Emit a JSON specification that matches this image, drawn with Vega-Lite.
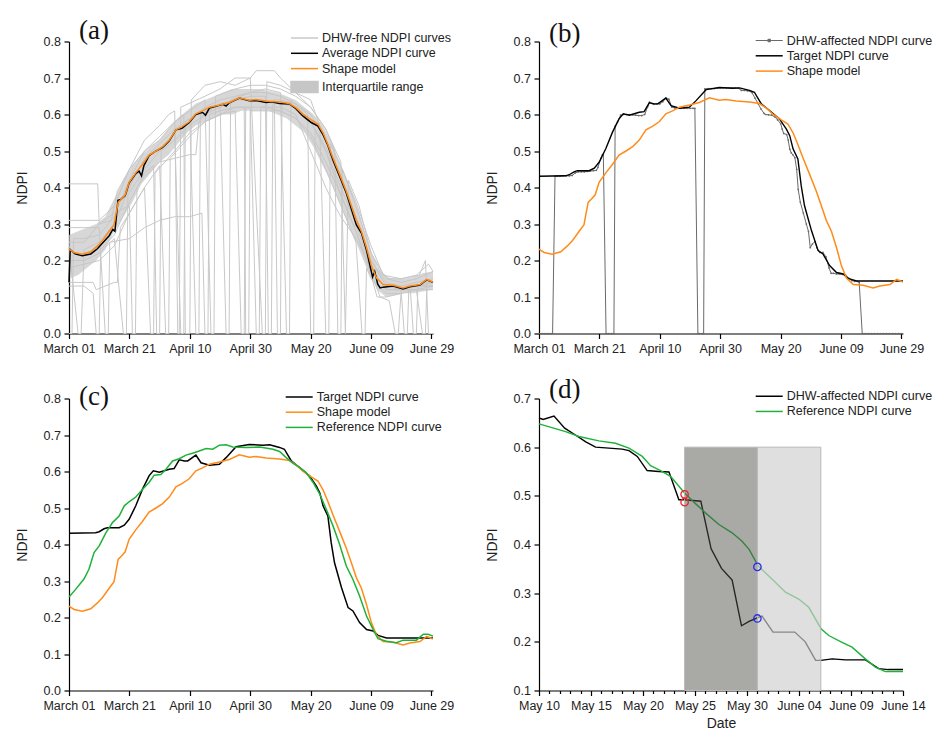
{
  "$schema": "https://vega.github.io/schema/vega-lite/v6.json",
  "background": "white",
  "padding": {"left": 15, "top": 16.5, "right": 5, "bottom": 5},
  "columns": 2,
  "spacing": {"row": 65, "column": 106},
  "bounds": "flush",
  "resolve": {"scale": {"color": "independent", "x": "independent", "y": "independent", "fill": "independent", "stroke": "independent", "opacity": "independent"}, "legend": {"color": "independent"}},
  "datasets": {
    "gray": [
      {"id":"c1","day":0,"v":0.41},{"id":"c1","day":9.5,"v":0.41},{"id":"c1","day":10,"v":0.30},{"id":"c1","day":14,"v":0.31},{"id":"c1","day":16,"v":0.39},{"id":"c1","day":20,"v":0.45},{"id":"c1","day":25,"v":0.50},{"id":"c1","day":30,"v":0.54},{"id":"c1","day":35,"v":0.58},{"id":"c1","day":38,"v":0.60},{"id":"c1","day":38.5,"v":0},{"id":"c1","day":40,"v":0},{"id":"c1","day":40.5,"v":0.64},{"id":"c1","day":45,"v":0.68},{"id":"c1","day":50,"v":0.69},{"id":"c1","day":55,"v":0.68},{"id":"c1","day":60,"v":0.70},{"id":"c1","day":62,"v":0.72},{"id":"c1","day":68,"v":0.72},{"id":"c1","day":70,"v":0.70},{"id":"c1","day":75,"v":0.66},{"id":"c1","day":80,"v":0.62},{"id":"c1","day":85,"v":0.56},{"id":"c1","day":90,"v":0.47},{"id":"c1","day":91.5,"v":0},{"id":"c1","day":92.5,"v":0.42},{"id":"c1","day":96,"v":0.35},{"id":"c1","day":100,"v":0.22},{"id":"c1","day":103,"v":0.17},{"id":"c1","day":106,"v":0.15},{"id":"c1","day":110,"v":0.15},{"id":"c1","day":116,"v":0.16},{"id":"c1","day":118,"v":0.20},{"id":"c1","day":119,"v":0},{"id":"c1","day":120.5,"v":0},
      {"id":"c2","day":0,"v":0.14},{"id":"c2","day":8,"v":0.14},{"id":"c2","day":9,"v":0.12},{"id":"c2","day":15,"v":0.14},{"id":"c2","day":16,"v":0.14},{"id":"c2","day":17,"v":0.29},{"id":"c2","day":20,"v":0.33},{"id":"c2","day":25,"v":0.40},{"id":"c2","day":30,"v":0.46},{"id":"c2","day":32,"v":0},{"id":"c2","day":33,"v":0},{"id":"c2","day":33.5,"v":0.48},{"id":"c2","day":40,"v":0.54},{"id":"c2","day":45,"v":0.58},{"id":"c2","day":50,"v":0.60},{"id":"c2","day":55,"v":0.62},{"id":"c2","day":58,"v":0.62},{"id":"c2","day":58.5,"v":0},{"id":"c2","day":59.5,"v":0},{"id":"c2","day":60,"v":0.61},{"id":"c2","day":65,"v":0.61},{"id":"c2","day":70,"v":0.61},{"id":"c2","day":75,"v":0.59},{"id":"c2","day":80,"v":0.55},{"id":"c2","day":85,"v":0.47},{"id":"c2","day":90,"v":0.38},{"id":"c2","day":95,"v":0.28},{"id":"c2","day":100,"v":0.17},{"id":"c2","day":103,"v":0.10},{"id":"c2","day":106,"v":0.09},{"id":"c2","day":108,"v":0},{"id":"c2","day":109,"v":0},{"id":"c2","day":110,"v":0.12},{"id":"c2","day":115,"v":0.13},{"id":"c2","day":120.5,"v":0.13},
      {"id":"c3","day":0,"v":0.13},{"id":"c3","day":5,"v":0.13},{"id":"c3","day":8,"v":0.11},{"id":"c3","day":9,"v":0},{"id":"c3","day":10,"v":0},{"id":"c3","day":10.5,"v":0.23},{"id":"c3","day":15,"v":0.27},{"id":"c3","day":20,"v":0.36},{"id":"c3","day":25,"v":0.44},{"id":"c3","day":28,"v":0.46},{"id":"c3","day":29,"v":0},{"id":"c3","day":30,"v":0},{"id":"c3","day":30.5,"v":0.50},{"id":"c3","day":35,"v":0.53},{"id":"c3","day":40,"v":0.57},{"id":"c3","day":45,"v":0.60},{"id":"c3","day":50,"v":0.62},{"id":"c3","day":55,"v":0.64},{"id":"c3","day":60,"v":0.65},{"id":"c3","day":65,"v":0.65},{"id":"c3","day":66,"v":0},{"id":"c3","day":67,"v":0},{"id":"c3","day":67.5,"v":0.64},{"id":"c3","day":70,"v":0.64},{"id":"c3","day":75,"v":0.63},{"id":"c3","day":80,"v":0.60},{"id":"c3","day":85,"v":0.53},{"id":"c3","day":90,"v":0.43},{"id":"c3","day":95,"v":0.32},{"id":"c3","day":100,"v":0.20},{"id":"c3","day":105,"v":0.13},{"id":"c3","day":110,"v":0.12},{"id":"c3","day":115,"v":0.12},{"id":"c3","day":117,"v":0},{"id":"c3","day":118,"v":0},{"id":"c3","day":118.5,"v":0.14},{"id":"c3","day":120.5,"v":0.14},
      {"id":"c4","day":0,"v":0.29},{"id":"c4","day":5,"v":0.29},{"id":"c4","day":10,"v":0.29},{"id":"c4","day":12,"v":0},{"id":"c4","day":13,"v":0},{"id":"c4","day":13.5,"v":0.25},{"id":"c4","day":20,"v":0.26},{"id":"c4","day":25,"v":0.29},{"id":"c4","day":30,"v":0.31},{"id":"c4","day":35,"v":0.32},{"id":"c4","day":40,"v":0.32},{"id":"c4","day":44,"v":0.33},{"id":"c4","day":45,"v":0},{"id":"c4","day":46,"v":0},{"id":"c4","day":46.5,"v":0.60},{"id":"c4","day":50,"v":0.61},{"id":"c4","day":55,"v":0.62},{"id":"c4","day":60,"v":0.62},{"id":"c4","day":62,"v":0},{"id":"c4","day":63,"v":0},{"id":"c4","day":63.5,"v":0.62},{"id":"c4","day":70,"v":0.62},{"id":"c4","day":75,"v":0.60},{"id":"c4","day":80,"v":0.50},{"id":"c4","day":82,"v":0.46},{"id":"c4","day":85,"v":0.40},{"id":"c4","day":88,"v":0.35},{"id":"c4","day":90,"v":0.32},{"id":"c4","day":95,"v":0.26},{"id":"c4","day":100,"v":0.18},{"id":"c4","day":105,"v":0.12},{"id":"c4","day":110,"v":0.12},{"id":"c4","day":115,"v":0.13},{"id":"c4","day":120.5,"v":0.13},
      {"id":"c5","day":0,"v":0.25},{"id":"c5","day":5,"v":0.25},{"id":"c5","day":10,"v":0.30},{"id":"c5","day":15,"v":0.33},{"id":"c5","day":20,"v":0.35},{"id":"c5","day":21,"v":0},{"id":"c5","day":22,"v":0},{"id":"c5","day":22.5,"v":0.40},{"id":"c5","day":25,"v":0.43},{"id":"c5","day":30,"v":0.47},{"id":"c5","day":35,"v":0.48},{"id":"c5","day":40,"v":0.49},{"id":"c5","day":42,"v":0.49},{"id":"c5","day":43,"v":0.58},{"id":"c5","day":45,"v":0.60},{"id":"c5","day":50,"v":0.63},{"id":"c5","day":52,"v":0},{"id":"c5","day":53,"v":0},{"id":"c5","day":53.5,"v":0.64},{"id":"c5","day":60,"v":0.66},{"id":"c5","day":65,"v":0.67},{"id":"c5","day":70,"v":0.66},{"id":"c5","day":72,"v":0},{"id":"c5","day":73,"v":0},{"id":"c5","day":73.5,"v":0.64},{"id":"c5","day":80,"v":0.58},{"id":"c5","day":85,"v":0.51},{"id":"c5","day":90,"v":0.42},{"id":"c5","day":95,"v":0.32},{"id":"c5","day":100,"v":0.20},{"id":"c5","day":105,"v":0.14},{"id":"c5","day":110,"v":0.13},{"id":"c5","day":115,"v":0.14},{"id":"c5","day":120.5,"v":0.15},
      {"id":"c6","day":0,"v":0.20},{"id":"c6","day":5,"v":0.20},{"id":"c6","day":10,"v":0.22},{"id":"c6","day":15,"v":0.26},{"id":"c6","day":18,"v":0},{"id":"c6","day":19,"v":0},{"id":"c6","day":19.5,"v":0.38},{"id":"c6","day":25,"v":0.45},{"id":"c6","day":30,"v":0.50},{"id":"c6","day":35,"v":0.55},{"id":"c6","day":37,"v":0},{"id":"c6","day":38,"v":0},{"id":"c6","day":38.5,"v":0.58},{"id":"c6","day":45,"v":0.62},{"id":"c6","day":50,"v":0.64},{"id":"c6","day":55,"v":0.65},{"id":"c6","day":60,"v":0.66},{"id":"c6","day":65,"v":0.66},{"id":"c6","day":70,"v":0.65},{"id":"c6","day":75,"v":0.63},{"id":"c6","day":79,"v":0.60},{"id":"c6","day":80,"v":0},{"id":"c6","day":81,"v":0},{"id":"c6","day":81.5,"v":0.56},{"id":"c6","day":85,"v":0.50},{"id":"c6","day":90,"v":0.40},{"id":"c6","day":95,"v":0.30},{"id":"c6","day":100,"v":0.18},{"id":"c6","day":105,"v":0.12},{"id":"c6","day":110,"v":0.12},{"id":"c6","day":113,"v":0.12},{"id":"c6","day":114,"v":0},{"id":"c6","day":115,"v":0},{"id":"c6","day":115.5,"v":0.13},{"id":"c6","day":120.5,"v":0.14},
      {"id":"c7","day":0,"v":0},{"id":"c7","day":1,"v":0},{"id":"c7","day":1.5,"v":0.26},{"id":"c7","day":5,"v":0.26},{"id":"c7","day":10,"v":0.27},{"id":"c7","day":15,"v":0.32},{"id":"c7","day":20,"v":0.42},{"id":"c7","day":25,"v":0.50},{"id":"c7","day":30,"v":0.53},{"id":"c7","day":35,"v":0.58},{"id":"c7","day":40,"v":0.61},{"id":"c7","day":45,"v":0.64},{"id":"c7","day":47,"v":0},{"id":"c7","day":48,"v":0},{"id":"c7","day":48.5,"v":0.65},{"id":"c7","day":55,"v":0.67},{"id":"c7","day":60,"v":0.68},{"id":"c7","day":65,"v":0.68},{"id":"c7","day":70,"v":0.67},{"id":"c7","day":75,"v":0.65},{"id":"c7","day":80,"v":0.62},{"id":"c7","day":85,"v":0.56},{"id":"c7","day":88,"v":0.50},{"id":"c7","day":89,"v":0},{"id":"c7","day":90,"v":0},{"id":"c7","day":90.5,"v":0.45},{"id":"c7","day":95,"v":0.35},{"id":"c7","day":100,"v":0.22},{"id":"c7","day":105,"v":0.15},{"id":"c7","day":110,"v":0.14},{"id":"c7","day":115,"v":0.15},{"id":"c7","day":120.5,"v":0.17},
      {"id":"c8","day":0,"v":0.18},{"id":"c8","day":5,"v":0.19},{"id":"c8","day":10,"v":0.20},{"id":"c8","day":15,"v":0.24},{"id":"c8","day":20,"v":0.33},{"id":"c8","day":25,"v":0.40},{"id":"c8","day":27,"v":0},{"id":"c8","day":28,"v":0},{"id":"c8","day":28.5,"v":0.44},{"id":"c8","day":35,"v":0.50},{"id":"c8","day":40,"v":0.55},{"id":"c8","day":45,"v":0.58},{"id":"c8","day":50,"v":0.60},{"id":"c8","day":55,"v":0.61},{"id":"c8","day":57,"v":0},{"id":"c8","day":58,"v":0},{"id":"c8","day":58.5,"v":0.62},{"id":"c8","day":65,"v":0.62},{"id":"c8","day":70,"v":0.61},{"id":"c8","day":75,"v":0.59},{"id":"c8","day":80,"v":0.54},{"id":"c8","day":85,"v":0.45},{"id":"c8","day":90,"v":0.35},{"id":"c8","day":95,"v":0.25},{"id":"c8","day":97,"v":0},{"id":"c8","day":98,"v":0},{"id":"c8","day":98.5,"v":0.18},{"id":"c8","day":100,"v":0.15},{"id":"c8","day":105,"v":0.11},{"id":"c8","day":110,"v":0.11},{"id":"c8","day":115,"v":0.12},{"id":"c8","day":120.5,"v":0.13},
      {"id":"c9","day":0,"v":0.24},{"id":"c9","day":3,"v":0},{"id":"c9","day":4,"v":0},{"id":"c9","day":5,"v":0.23},{"id":"c9","day":10,"v":0.25},{"id":"c9","day":15,"v":0.30},{"id":"c9","day":20,"v":0.40},{"id":"c9","day":25,"v":0.48},{"id":"c9","day":30,"v":0.52},{"id":"c9","day":35,"v":0.56},{"id":"c9","day":40,"v":0.59},{"id":"c9","day":42,"v":0},{"id":"c9","day":43,"v":0},{"id":"c9","day":43.5,"v":0.60},{"id":"c9","day":50,"v":0.63},{"id":"c9","day":55,"v":0.64},{"id":"c9","day":60,"v":0.64},{"id":"c9","day":68,"v":0.63},{"id":"c9","day":69,"v":0},{"id":"c9","day":70,"v":0},{"id":"c9","day":70.5,"v":0.63},{"id":"c9","day":75,"v":0.62},{"id":"c9","day":80,"v":0.58},{"id":"c9","day":85,"v":0.50},{"id":"c9","day":90,"v":0.38},{"id":"c9","day":95,"v":0.28},{"id":"c9","day":100,"v":0.16},{"id":"c9","day":102,"v":0.10},{"id":"c9","day":105,"v":0.10},{"id":"c9","day":110,"v":0.11},{"id":"c9","day":111,"v":0},{"id":"c9","day":112,"v":0},{"id":"c9","day":112.5,"v":0.12},{"id":"c9","day":120.5,"v":0.12},
      {"id":"c10","day":0,"v":0.31},{"id":"c10","day":5,"v":0.31},{"id":"c10","day":10,"v":0.31},{"id":"c10","day":15,"v":0.35},{"id":"c10","day":20,"v":0.45},{"id":"c10","day":25,"v":0.53},{"id":"c10","day":30,"v":0.57},{"id":"c10","day":33,"v":0.60},{"id":"c10","day":35,"v":0.61},{"id":"c10","day":36,"v":0},{"id":"c10","day":36.5,"v":0},{"id":"c10","day":37,"v":0.62},{"id":"c10","day":45,"v":0.65},{"id":"c10","day":50,"v":0.67},{"id":"c10","day":55,"v":0.70},{"id":"c10","day":60,"v":0.70},{"id":"c10","day":64,"v":0},{"id":"c10","day":65,"v":0},{"id":"c10","day":65.5,"v":0.69},{"id":"c10","day":70,"v":0.68},{"id":"c10","day":75,"v":0.66},{"id":"c10","day":80,"v":0.64},{"id":"c10","day":83,"v":0.57},{"id":"c10","day":85,"v":0},{"id":"c10","day":86,"v":0},{"id":"c10","day":86.5,"v":0.52},{"id":"c10","day":90,"v":0.46},{"id":"c10","day":95,"v":0.36},{"id":"c10","day":100,"v":0.24},{"id":"c10","day":104,"v":0.16},{"id":"c10","day":110,"v":0.15},{"id":"c10","day":115,"v":0.16},{"id":"c10","day":119,"v":0.19},{"id":"c10","day":120.5,"v":0.17}
    ],
    "iqr": [
      {"day":0,"lo":0.15,"hi":0.27},{"day":3,"lo":0.16,"hi":0.28},{"day":6,"lo":0.18,"hi":0.29},{"day":9,"lo":0.20,"hi":0.30},{"day":12,"lo":0.23,"hi":0.32},{"day":15,"lo":0.28,"hi":0.37},{"day":18,"lo":0.32,"hi":0.42},{"day":21,"lo":0.36,"hi":0.46},{"day":24,"lo":0.41,"hi":0.49},{"day":27,"lo":0.44,"hi":0.51},{"day":30,"lo":0.47,"hi":0.53},{"day":33,"lo":0.49,"hi":0.56},{"day":36,"lo":0.52,"hi":0.59},{"day":39,"lo":0.55,"hi":0.61},{"day":42,"lo":0.57,"hi":0.63},{"day":45,"lo":0.58,"hi":0.64},{"day":48,"lo":0.59,"hi":0.65},{"day":51,"lo":0.60,"hi":0.66},{"day":54,"lo":0.60,"hi":0.67},{"day":57,"lo":0.61,"hi":0.67},{"day":60,"lo":0.61,"hi":0.67},{"day":63,"lo":0.61,"hi":0.67},{"day":66,"lo":0.61,"hi":0.665},{"day":69,"lo":0.60,"hi":0.66},{"day":72,"lo":0.59,"hi":0.65},{"day":75,"lo":0.57,"hi":0.64},{"day":78,"lo":0.55,"hi":0.62},{"day":81,"lo":0.51,"hi":0.60},{"day":84,"lo":0.46,"hi":0.57},{"day":87,"lo":0.41,"hi":0.52},{"day":90,"lo":0.35,"hi":0.46},{"day":93,"lo":0.29,"hi":0.40},{"day":96,"lo":0.23,"hi":0.33},{"day":99,"lo":0.17,"hi":0.25},{"day":102,"lo":0.12,"hi":0.18},{"day":105,"lo":0.10,"hi":0.155},{"day":108,"lo":0.105,"hi":0.15},{"day":111,"lo":0.11,"hi":0.15},{"day":114,"lo":0.11,"hi":0.155},{"day":117,"lo":0.115,"hi":0.165},{"day":120.5,"lo":0.12,"hi":0.17}
    ],
    "avg": [
      {"day":0,"v":0.14},{"day":0.4,"v":0.23},{"day":2,"v":0.218},{"day":4.4,"v":0.213},{"day":7.2,"v":0.218},{"day":9.4,"v":0.232},{"day":11.1,"v":0.248},{"day":13.3,"v":0.268},{"day":14.5,"v":0.285},{"day":15.2,"v":0.28},{"day":15.8,"v":0.33},{"day":16.2,"v":0.365},{"day":17.1,"v":0.367},{"day":18.6,"v":0.378},{"day":19.9,"v":0.412},{"day":22.1,"v":0.438},{"day":23.2,"v":0.445},{"day":24,"v":0.432},{"day":24.8,"v":0.46},{"day":26.5,"v":0.487},{"day":28.8,"v":0.5},{"day":31,"v":0.51},{"day":33.2,"v":0.528},{"day":35.4,"v":0.558},{"day":37.4,"v":0.562},{"day":39.8,"v":0.578},{"day":42,"v":0.6},{"day":44.2,"v":0.606},{"day":45.2,"v":0.598},{"day":46.5,"v":0.618},{"day":49.8,"v":0.625},{"day":51,"v":0.628},{"day":52,"v":0.623},{"day":53.1,"v":0.632},{"day":56.4,"v":0.645},{"day":59.7,"v":0.638},{"day":61.9,"v":0.638},{"day":65.3,"v":0.633},{"day":67,"v":0.635},{"day":69.7,"v":0.63},{"day":73,"v":0.629},{"day":75.2,"v":0.615},{"day":77.4,"v":0.596},{"day":80.2,"v":0.578},{"day":82.4,"v":0.568},{"day":84.1,"v":0.545},{"day":85.7,"v":0.515},{"day":87.4,"v":0.475},{"day":89.6,"v":0.43},{"day":91.8,"v":0.385},{"day":93.5,"v":0.34},{"day":95.1,"v":0.298},{"day":96.8,"v":0.275},{"day":98.5,"v":0.228},{"day":99.8,"v":0.18},{"day":100.5,"v":0.155},{"day":101.2,"v":0.17},{"day":102.2,"v":0.135},{"day":103,"v":0.125},{"day":104,"v":0.127},{"day":107.3,"v":0.13},{"day":110.6,"v":0.122},{"day":112.8,"v":0.128},{"day":116.2,"v":0.133},{"day":118.4,"v":0.147},{"day":120.5,"v":0.14}
    ],
    "shape": [
      {"day":0,"v":0.231},{"day":1.7,"v":0.222},{"day":4.4,"v":0.217},{"day":7.2,"v":0.224},{"day":9.4,"v":0.24},{"day":11.1,"v":0.255},{"day":13.3,"v":0.28},{"day":14.9,"v":0.298},{"day":15.6,"v":0.33},{"day":16.3,"v":0.36},{"day":17.3,"v":0.368},{"day":18.6,"v":0.38},{"day":19.9,"v":0.414},{"day":22.1,"v":0.44},{"day":24.3,"v":0.463},{"day":26.5,"v":0.489},{"day":28.8,"v":0.5},{"day":31,"v":0.512},{"day":33.2,"v":0.53},{"day":35.4,"v":0.558},{"day":37.4,"v":0.567},{"day":39.8,"v":0.58},{"day":42,"v":0.602},{"day":44.2,"v":0.61},{"day":46.5,"v":0.62},{"day":49.8,"v":0.626},{"day":53.1,"v":0.633},{"day":56.4,"v":0.646},{"day":59.7,"v":0.639},{"day":61.9,"v":0.641},{"day":65.3,"v":0.637},{"day":69.7,"v":0.634},{"day":73,"v":0.63},{"day":75.2,"v":0.618},{"day":77.4,"v":0.601},{"day":80.2,"v":0.585},{"day":82.4,"v":0.574},{"day":84.1,"v":0.55},{"day":85.7,"v":0.518},{"day":87.4,"v":0.481},{"day":89.6,"v":0.436},{"day":91.8,"v":0.39},{"day":93.5,"v":0.349},{"day":95.1,"v":0.31},{"day":96.8,"v":0.28},{"day":98.5,"v":0.235},{"day":100.1,"v":0.186},{"day":101.8,"v":0.152},{"day":104,"v":0.134},{"day":107.3,"v":0.132},{"day":110.6,"v":0.125},{"day":112.8,"v":0.13},{"day":116.2,"v":0.134},{"day":118.4,"v":0.148},{"day":120.5,"v":0.141}
    ],
    "target": [
      {"day":0,"v":0.431},{"day":8.8,"v":0.432},{"day":10,"v":0.435},{"day":11.6,"v":0.443},{"day":12.7,"v":0.446},{"day":16.6,"v":0.446},{"day":18.3,"v":0.453},{"day":19.9,"v":0.469},{"day":22.1,"v":0.506},{"day":24.3,"v":0.551},{"day":26.5,"v":0.588},{"day":27.9,"v":0.602},{"day":29.9,"v":0.598},{"day":33.2,"v":0.606},{"day":34.8,"v":0.608},{"day":36.5,"v":0.632},{"day":38.2,"v":0.629},{"day":39.3,"v":0.629},{"day":42,"v":0.645},{"day":43.7,"v":0.624},{"day":46.5,"v":0.617},{"day":49.8,"v":0.62},{"day":52,"v":0.638},{"day":55.3,"v":0.668},{"day":59.7,"v":0.674},{"day":64.2,"v":0.672},{"day":66.4,"v":0.673},{"day":69.7,"v":0.666},{"day":71.3,"v":0.661},{"day":73.6,"v":0.629},{"day":76.3,"v":0.611},{"day":79.6,"v":0.588},{"day":81.9,"v":0.56},{"day":83,"v":0.542},{"day":84.1,"v":0.506},{"day":85.7,"v":0.478},{"day":86.8,"v":0.405},{"day":87.9,"v":0.35},{"day":90.2,"v":0.282},{"day":92.4,"v":0.227},{"day":94,"v":0.218},{"day":96.2,"v":0.186},{"day":98.5,"v":0.167},{"day":100.7,"v":0.163},{"day":102.3,"v":0.151},{"day":105.1,"v":0.144},{"day":120.5,"v":0.144}
    ],
    "dhw": [
      {"day":0,"v":0},{"day":1,"v":0},{"day":2,"v":0},{"day":3,"v":0},{"day":4,"v":0},{"day":4.5,"v":0},{"day":5.3,"v":0.431},{"day":6,"v":0.431},{"day":7,"v":0.431},{"day":8,"v":0.432},{"day":9,"v":0.432},{"day":10,"v":0.432},{"day":11,"v":0.433},{"day":12,"v":0.44},{"day":13,"v":0.443},{"day":14,"v":0.443},{"day":15,"v":0.443},{"day":16,"v":0.444},{"day":17,"v":0.445},{"day":18,"v":0.446},{"day":19,"v":0.447},{"day":19.5,"v":0.455},{"day":20.5,"v":0.48},{"day":21,"v":0.49},{"day":21.3,"v":0.49},{"day":22.2,"v":0},{"day":23,"v":0},{"day":24,"v":0},{"day":24.8,"v":0},{"day":25.2,"v":0.568},{"day":26,"v":0.58},{"day":27,"v":0.598},{"day":28,"v":0.6},{"day":29,"v":0.6},{"day":30,"v":0.6},{"day":31,"v":0.599},{"day":32,"v":0.598},{"day":33,"v":0.597},{"day":34,"v":0.597},{"day":35,"v":0.6},{"day":36,"v":0.622},{"day":36.6,"v":0.634},{"day":37.5,"v":0.63},{"day":38,"v":0.628},{"day":39,"v":0.629},{"day":40,"v":0.629},{"day":41,"v":0.635},{"day":42,"v":0.645},{"day":43,"v":0.642},{"day":44,"v":0.62},{"day":45,"v":0.618},{"day":46,"v":0.617},{"day":47,"v":0.617},{"day":48,"v":0.617},{"day":49,"v":0.617},{"day":50,"v":0.617},{"day":51,"v":0.617},{"day":51.6,"v":0.617},{"day":52.6,"v":0},{"day":53,"v":0},{"day":54,"v":0},{"day":54.5,"v":0},{"day":54.9,"v":0.67},{"day":56,"v":0.671},{"day":57,"v":0.671},{"day":58,"v":0.671},{"day":59,"v":0.672},{"day":60,"v":0.673},{"day":61,"v":0.673},{"day":62,"v":0.673},{"day":63,"v":0.673},{"day":64,"v":0.673},{"day":65,"v":0.673},{"day":66,"v":0.672},{"day":67,"v":0.666},{"day":68,"v":0.666},{"day":69,"v":0.665},{"day":70,"v":0.663},{"day":70.5,"v":0.66},{"day":71.5,"v":0.645},{"day":72.5,"v":0.63},{"day":73.5,"v":0.615},{"day":74.5,"v":0.603},{"day":75,"v":0.6},{"day":76,"v":0.599},{"day":77,"v":0.598},{"day":78,"v":0.594},{"day":79,"v":0.585},{"day":80,"v":0.575},{"day":80.5,"v":0.56},{"day":81,"v":0.548},{"day":82,"v":0.545},{"day":82.5,"v":0.53},{"day":83,"v":0.505},{"day":83.5,"v":0.495},{"day":84,"v":0.49},{"day":84.7,"v":0.482},{"day":85.3,"v":0.45},{"day":85.8,"v":0.395},{"day":86.5,"v":0.36},{"day":87.5,"v":0.33},{"day":88.5,"v":0.3},{"day":89.2,"v":0.28},{"day":89.8,"v":0.235},{"day":90.5,"v":0.245},{"day":91.3,"v":0.252},{"day":92,"v":0.235},{"day":93,"v":0.222},{"day":94,"v":0.222},{"day":95,"v":0.21},{"day":96,"v":0.18},{"day":96.7,"v":0.165},{"day":97.5,"v":0.165},{"day":98.5,"v":0.163},{"day":99.5,"v":0.163},{"day":100.5,"v":0.162},{"day":101.5,"v":0.16},{"day":102.5,"v":0.152},{"day":103.5,"v":0.145},{"day":104.5,"v":0.143},{"day":105.5,"v":0.143},{"day":106,"v":0.14},{"day":107,"v":0},{"day":108,"v":0},{"day":109,"v":0},{"day":110,"v":0},{"day":111,"v":0},{"day":112,"v":0},{"day":113,"v":0},{"day":114,"v":0},{"day":115,"v":0},{"day":116,"v":0},{"day":117,"v":0},{"day":118,"v":0},{"day":119,"v":0},{"day":120,"v":0}
    ],
    "ref": [
      {"day":0,"v":0.256},{"day":2.2,"v":0.277},{"day":5,"v":0.306},{"day":6.6,"v":0.332},{"day":8.3,"v":0.378},{"day":10,"v":0.396},{"day":12.2,"v":0.432},{"day":14.4,"v":0.46},{"day":16.6,"v":0.478},{"day":18.3,"v":0.506},{"day":19.9,"v":0.517},{"day":22.1,"v":0.53},{"day":24.3,"v":0.551},{"day":26.5,"v":0.57},{"day":28.2,"v":0.59},{"day":30.4,"v":0.592},{"day":32.1,"v":0.606},{"day":34.3,"v":0.629},{"day":36.5,"v":0.635},{"day":38.7,"v":0.645},{"day":40.9,"v":0.65},{"day":43.1,"v":0.656},{"day":45.4,"v":0.663},{"day":47.6,"v":0.661},{"day":49.8,"v":0.672},{"day":52,"v":0.673},{"day":54.2,"v":0.667},{"day":58.6,"v":0.666},{"day":63.1,"v":0.667},{"day":67.5,"v":0.661},{"day":69.7,"v":0.655},{"day":71.9,"v":0.638},{"day":74.1,"v":0.623},{"day":76.3,"v":0.611},{"day":78.5,"v":0.597},{"day":80.8,"v":0.57},{"day":83,"v":0.538},{"day":85.2,"v":0.496},{"day":87.4,"v":0.451},{"day":89.6,"v":0.4},{"day":91.8,"v":0.341},{"day":94,"v":0.304},{"day":96.2,"v":0.259},{"day":98.5,"v":0.204},{"day":100.7,"v":0.167},{"day":102.3,"v":0.142},{"day":105.1,"v":0.135},{"day":108.4,"v":0.131},{"day":110.6,"v":0.138},{"day":115,"v":0.138},{"day":117.3,"v":0.154},{"day":118.9,"v":0.154},{"day":120.5,"v":0.149}
    ],
    "dblack": [
      {"day":0,"v":0.66},{"day":0.4,"v":0.657},{"day":1.44,"v":0.664},{"day":2.47,"v":0.639},{"day":3.5,"v":0.625},{"day":4.5,"v":0.611},{"day":5.44,"v":0.6},{"day":8,"v":0.596},{"day":8.65,"v":0.593},{"day":9.45,"v":0.581},{"day":10.4,"v":0.552},{"day":11.5,"v":0.55},{"day":12.5,"v":0.549},{"day":13.45,"v":0.492},{"day":14,"v":0.492},{"day":15.56,"v":0.489},{"day":16.55,"v":0.391},{"day":17.55,"v":0.351},{"day":18.57,"v":0.327},{"day":19.47,"v":0.233},{"day":20.2,"v":0.242},{"day":21.07,"v":0.25},{"day":21.45,"v":0.253},{"day":22.5,"v":0.22},{"day":23.5,"v":0.22},{"day":24.6,"v":0.22},{"day":25.6,"v":0.2},{"day":26.6,"v":0.162},{"day":27.1,"v":0.162},{"day":28.2,"v":0.165},{"day":29.46,"v":0.163},{"day":31.4,"v":0.163},{"day":32.66,"v":0.145},{"day":33.6,"v":0.143},{"day":35,"v":0.143}
    ],
    "dgreen": [
      {"day":0,"v":0.648},{"day":2.56,"v":0.632},{"day":3.84,"v":0.622},{"day":5.76,"v":0.613},{"day":7.36,"v":0.608},{"day":8.65,"v":0.598},{"day":9.93,"v":0.581},{"day":10.73,"v":0.562},{"day":11.69,"v":0.552},{"day":12.65,"v":0.54},{"day":14,"v":0.506},{"day":15,"v":0.485},{"day":16,"v":0.465},{"day":17.3,"v":0.441},{"day":18.57,"v":0.424},{"day":19.5,"v":0.407},{"day":20.2,"v":0.39},{"day":21.07,"v":0.356},{"day":22.4,"v":0.329},{"day":23.7,"v":0.302},{"day":24.97,"v":0.288},{"day":25.94,"v":0.271},{"day":27.12,"v":0.227},{"day":27.86,"v":0.213},{"day":29.14,"v":0.199},{"day":30.1,"v":0.189},{"day":31.38,"v":0.165},{"day":32.34,"v":0.148},{"day":33.3,"v":0.139},{"day":35,"v":0.139}
    ],
    "zones": [
      {"phase":"dark","d0":14,"d1":21,"lo":0.1,"hi":0.6},
      {"phase":"light","d0":21,"d1":27.1,"lo":0.1,"hi":0.6}
    ],
    "marks": [
      {"grp":"start","day":14,"v":0.503},{"grp":"start","day":14,"v":0.487},
      {"grp":"end","day":21,"v":0.354},{"grp":"end","day":21,"v":0.248}
    ]
  },
  "concat": [
    {
      "width": 364, "height": 292,
      "title": {"text": "(a)", "anchor": "start", "frame": "group", "dx": 10, "offset": -34.5, "baseline": "alphabetic"},
      "layer": [
        {
          "data": {"name": "gray"},
          "mark": {"type": "line", "strokeWidth": 1},
          "encoding": {
            "x": {"field": "day", "type": "quantitative", "scale": {"domain": [0, 120.5], "nice": false, "zero": false},
                  "axis": {"values": [0, 20, 40, 60, 80, 100, 120], "tickCount": 200, "title": null, "ticks": true, "tickSize": 5, "labelOverlap": false, "labelExpr": "timeFormat(datetime(2019, 2, 1 + datum.value), '%B %d')"}},
            "y": {"field": "v", "type": "quantitative", "scale": {"domain": [0, 0.8], "nice": false},
                  "axis": {"values": [0, 0.1, 0.2, 0.3, 0.4, 0.5, 0.6, 0.7, 0.8], "tickCount": 200, "format": ".1f", "title": "NDPI", "ticks": true, "tickSize": 5, "labelOverlap": false}},
            "detail": {"field": "id"},
            "color": {"datum": "DHW-free NDPI curves",
              "scale": {"domain": ["DHW-free NDPI curves", "Average NDPI curve", "Shape model", "Interquartile range"], "range": ["#c8c8c8", "#000000", "#ff8c1a", "#c6c6c6"]},
              "legend": {"orient": "none", "legendX": 236.5, "legendY": -9.75, "title": null, "symbolType": "M-4.15,0H1.25", "symbolSize": 100, "symbolStrokeWidth": 1.5, "labelOffset": 4, "rowPadding": 2.3, "padding": 0,
                "encode": {"symbols": {"update": {
                  "shape": {"signal": "datum.value === 'Interquartile range' ? 'M-4.15,-1.1H1.25V1.1H-4.15Z' : 'M-4.15,0H1.25'"},
                  "fill": {"signal": "datum.value === 'Interquartile range' ? '#e6e6e6' : 'transparent'"},
                  "fillOpacity": {"value": 1},
                  "stroke": {"signal": "datum.value === 'Interquartile range' ? 'transparent' : datum.value === 'Shape model' ? '#ff8c1a' : datum.value === 'Average NDPI curve' ? '#000000' : '#c8c8c8'"},
                  "strokeWidth": {"value": 1.5}, "opacity": {"value": 1}}}}}}
          }
        },
        {
          "data": {"name": "iqr"},
          "mark": {"type": "area", "opacity": 0.7},
          "encoding": {
            "x": {"field": "day", "type": "quantitative"},
            "y": {"field": "lo", "type": "quantitative"},
            "y2": {"field": "hi"},
            "color": {"datum": "Interquartile range"}
          }
        },
        {
          "data": {"name": "avg"},
          "mark": {"type": "line", "strokeWidth": 1.5},
          "encoding": {
            "x": {"field": "day", "type": "quantitative"},
            "y": {"field": "v", "type": "quantitative"},
            "color": {"datum": "Average NDPI curve"}
          }
        },
        {
          "data": {"name": "shape"},
          "mark": {"type": "line", "strokeWidth": 1.5},
          "encoding": {
            "x": {"field": "day", "type": "quantitative"},
            "y": {"field": "v", "type": "quantitative"},
            "color": {"datum": "Shape model"}
          }
        }
      ]
    },
    {
      "width": 364, "height": 292,
      "title": {"text": "(b)", "anchor": "start", "frame": "group", "dx": 10, "offset": -34.5, "baseline": "alphabetic"},
      "layer": [
        {
          "data": {"name": "dhw"},
          "mark": {"type": "line", "strokeWidth": 1, "point": {"filled": true, "size": 3}},
          "encoding": {
            "x": {"field": "day", "type": "quantitative", "scale": {"domain": [0, 120.5], "nice": false, "zero": false},
                  "axis": {"values": [0, 20, 40, 60, 80, 100, 120], "tickCount": 200, "title": null, "ticks": true, "tickSize": 5, "labelOverlap": false, "labelExpr": "timeFormat(datetime(2019, 2, 1 + datum.value), '%B %d')"}},
            "y": {"field": "v", "type": "quantitative", "scale": {"domain": [0, 0.8], "nice": false},
                  "axis": {"values": [0, 0.1, 0.2, 0.3, 0.4, 0.5, 0.6, 0.7, 0.8], "tickCount": 200, "format": ".1f", "title": "NDPI", "ticks": true, "tickSize": 5, "labelOverlap": false}},
            "color": {"datum": "DHW-affected NDPI curve",
              "scale": {"domain": ["DHW-affected NDPI curve", "Target NDPI curve", "Shape model"], "range": ["#6a6a6a", "#000000", "#ff8c1a"]},
              "legend": {"orient": "none", "legendX": 231.2, "legendY": -7.25, "title": null, "symbolType": "M-4.15,0H1.25", "symbolSize": 100, "symbolStrokeWidth": 1.5, "labelOffset": 4, "rowPadding": 2.3, "padding": 0,
                "encode": {"symbols": {"update": {
                  "shape": {"signal": "datum.value === 'DHW-affected NDPI curve' ? 'M-4.15,0H1.25M-1.7,-0.25H-1.2V0.25H-1.7Z' : 'M-4.15,0H1.25'"},
                  "fill": {"signal": "datum.value === 'DHW-affected NDPI curve' ? '#444444' : 'transparent'"},
                  "stroke": {"signal": "datum.value === 'Shape model' ? '#ff8c1a' : datum.value === 'Target NDPI curve' ? '#000000' : '#6a6a6a'"},
                  "strokeWidth": {"signal": "datum.value === 'DHW-affected NDPI curve' ? 1 : 1.5"}, "opacity": {"value": 1}}}}}}
          }
        },
        {
          "data": {"name": "target"},
          "mark": {"type": "line", "strokeWidth": 1.4},
          "encoding": {
            "x": {"field": "day", "type": "quantitative"},
            "y": {"field": "v", "type": "quantitative"},
            "color": {"datum": "Target NDPI curve"}
          }
        },
        {
          "data": {"name": "shape"},
          "mark": {"type": "line", "strokeWidth": 1.5},
          "encoding": {
            "x": {"field": "day", "type": "quantitative"},
            "y": {"field": "v", "type": "quantitative"},
            "color": {"datum": "Shape model"}
          }
        }
      ]
    },
    {
      "width": 364, "height": 292,
      "title": {"text": "(c)", "anchor": "start", "frame": "group", "dx": 10, "offset": -41, "baseline": "alphabetic"},
      "layer": [
        {
          "data": {"name": "target"},
          "mark": {"type": "line", "strokeWidth": 1.5},
          "encoding": {
            "x": {"field": "day", "type": "quantitative", "scale": {"domain": [0, 120.5], "nice": false, "zero": false},
                  "axis": {"values": [0, 20, 40, 60, 80, 100, 120], "tickCount": 200, "title": null, "ticks": true, "tickSize": 5, "labelOverlap": false, "labelExpr": "timeFormat(datetime(2019, 2, 1 + datum.value), '%B %d')"}},
            "y": {"field": "v", "type": "quantitative", "scale": {"domain": [0, 0.8], "nice": false},
                  "axis": {"values": [0, 0.1, 0.2, 0.3, 0.4, 0.5, 0.6, 0.7, 0.8], "tickCount": 200, "format": ".1f", "title": "NDPI", "ticks": true, "tickSize": 5, "labelOverlap": false}},
            "color": {"datum": "Target NDPI curve",
              "scale": {"domain": ["Target NDPI curve", "Shape model", "Reference NDPI curve"], "range": ["#000000", "#ff8c1a", "#1fb23a"]},
              "legend": {"orient": "none", "legendX": 231.2, "legendY": -7.75, "title": null, "symbolType": "M-4.15,0H1.25", "symbolSize": 100, "symbolStrokeWidth": 1.5, "labelOffset": 4, "rowPadding": 2.2, "padding": 0,
                "encode": {"symbols": {"update": {
                  "shape": {"value": "M-4.15,0H1.25"},
                  "fill": {"value": "transparent"},
                  "stroke": {"signal": "datum.value === 'Shape model' ? '#ff8c1a' : datum.value === 'Target NDPI curve' ? '#000000' : '#1fb23a'"},
                  "strokeWidth": {"value": 1.5}, "opacity": {"value": 1}}}}}}
          }
        },
        {
          "data": {"name": "shape"},
          "mark": {"type": "line", "strokeWidth": 1.5},
          "encoding": {
            "x": {"field": "day", "type": "quantitative"},
            "y": {"field": "v", "type": "quantitative"},
            "color": {"datum": "Shape model"}
          }
        },
        {
          "data": {"name": "ref"},
          "mark": {"type": "line", "strokeWidth": 1.5},
          "encoding": {
            "x": {"field": "day", "type": "quantitative"},
            "y": {"field": "v", "type": "quantitative"},
            "color": {"datum": "Reference NDPI curve"}
          }
        }
      ]
    },
    {
      "width": 364, "height": 292,
      "title": {"text": "(d)", "anchor": "start", "frame": "group", "dx": 10, "offset": -35, "baseline": "alphabetic"},
      "resolve": {"scale": {"stroke": "independent"}},
      "layer": [
        {
          "data": {"name": "dblack"},
          "mark": {"type": "line", "strokeWidth": 1.4},
          "encoding": {
            "x": {"field": "day", "type": "quantitative", "scale": {"domain": [0, 35], "nice": false, "zero": false},
                  "axis": {"values": [0,1,2,3,4,5,6,7,8,9,10,11,12,13,14,15,16,17,18,19,20,21,22,23,24,25,26,27,28,29,30,31,32,33,34,35], "tickCount": 200, "title": "Date", "titlePadding": 5, "ticks": true, "labelOverlap": false,
                           "tickSize": {"condition": {"test": "datum.value % 5 === 0", "value": 5}, "value": 3},
                           "labelExpr": "datum.value % 5 === 0 ? timeFormat(datetime(2019, 4, 10 + datum.value), '%B %d') : ''"}},
            "y": {"field": "v", "type": "quantitative", "scale": {"domain": [0.1, 0.7], "nice": false, "zero": false},
                  "axis": {"values": [0.1, 0.2, 0.3, 0.4, 0.5, 0.6, 0.7], "tickCount": 200, "format": ".1f", "title": "NDPI", "ticks": true, "tickSize": 5, "labelOverlap": false}},
            "color": {"datum": "DHW-affected NDPI curve",
              "scale": {"domain": ["DHW-affected NDPI curve", "Reference NDPI curve"], "range": ["#000000", "#1fb23a"]},
              "legend": {"orient": "none", "legendX": 231.2, "legendY": -8.5, "title": null, "symbolType": "M-4.15,0H1.25", "symbolSize": 100, "symbolStrokeWidth": 1.5, "labelOffset": 4, "rowPadding": 2.2, "padding": 0,
                "encode": {"symbols": {"update": {
                  "shape": {"value": "M-4.15,0H1.25"},
                  "fill": {"value": "transparent"},
                  "stroke": {"signal": "datum.value === 'Reference NDPI curve' ? '#1fb23a' : '#000000'"},
                  "strokeWidth": {"value": 1.5}, "opacity": {"value": 1}}}}}}
          }
        },
        {
          "data": {"name": "dgreen"},
          "mark": {"type": "line", "strokeWidth": 1.4},
          "encoding": {
            "x": {"field": "day", "type": "quantitative"},
            "y": {"field": "v", "type": "quantitative"},
            "color": {"datum": "Reference NDPI curve"}
          }
        },
        {
          "data": {"name": "zones"},
          "mark": {"type": "rect", "strokeWidth": 1, "stroke": "#b8b8b8"},
          "encoding": {
            "x": {"field": "d0", "type": "quantitative"},
            "x2": {"field": "d1"},
            "y": {"field": "lo", "type": "quantitative"},
            "y2": {"field": "hi"},
            "fill": {"field": "phase", "type": "nominal", "scale": {"domain": ["dark", "light"], "range": ["#504f4a", "#cfcfcf"]}, "legend": null},
            "fillOpacity": {"field": "phase", "type": "nominal", "scale": {"domain": ["dark", "light"], "range": [0.49, 0.66]}, "legend": null}
          }
        },
        {
          "data": {"name": "marks"},
          "mark": {"type": "point", "shape": "circle", "filled": false, "size": 55, "strokeWidth": 1.3, "opacity": 1},
          "encoding": {
            "x": {"field": "day", "type": "quantitative"},
            "y": {"field": "v", "type": "quantitative"},
            "stroke": {"field": "grp", "type": "nominal", "scale": {"domain": ["start", "end"], "range": ["#e8262b", "#2b2bea"]}, "legend": null}
          }
        }
      ]
    }
  ],
  "config": {
    "view": {"stroke": null},
    "font": "Liberation Sans",
    "axis": {"labelFont": "Liberation Sans", "labelFontSize": 12.5, "labelColor": "#222222", "titleFont": "Liberation Sans", "titleFontSize": 14, "titleFontWeight": "normal", "titleColor": "#222222", "domainColor": "#000000", "tickColor": "#000000", "domainWidth": 1.2, "tickWidth": 1.2, "tickSize": 5, "labelPadding": 3.5, "grid": false, "labelFlush": false, "labelOverlap": false, "labelBound": false},
    "axisY": {"titlePadding": 14},
    "legend": {"labelFont": "Liberation Sans", "labelFontSize": 12.5, "labelColor": "#222222", "labelLimit": 220},
    "title": {"font": "Liberation Serif", "fontSize": 27, "fontWeight": "normal", "color": "#111111"}
  }
}
